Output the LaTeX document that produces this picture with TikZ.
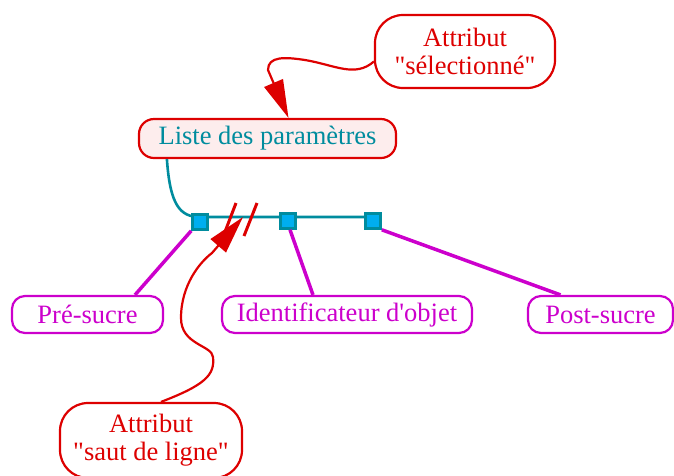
\documentclass[tikz,border=0pt]{standalone}
\usepackage{fontspec}
\setmainfont{Liberation Serif}
\usepackage{tikz}
\usetikzlibrary{arrows.meta}
\definecolor{rouge}{HTML}{DD0000}
\definecolor{sarcelle}{HTML}{008C9E}
\definecolor{mauve}{HTML}{CC00CC}
\definecolor{bleu}{HTML}{00AEEF}
\definecolor{rose}{HTML}{FDEDED}

\begin{document}
\begin{tikzpicture}[x=1pt,y=-1pt,
  txt/.style={font=\fontsize{26.5}{28}\selectfont,align=center,inner sep=0pt},
  attr/.style={txt,draw=rouge,text=rouge,fill=white,line width=2.2pt,rounded corners=28pt},
  role/.style={txt,draw=mauve,text=mauve,line width=2.2pt,rounded corners=13pt,minimum height=37pt},
  param/.style={minimum size=15pt,inner sep=0pt,fill=bleu,draw=sarcelle,line width=2.6pt},
  fleche/.style={draw=rouge,line width=2.2pt,-{Triangle[length=38pt,width=20pt]}},
  lien/.style={draw=mauve,line width=3.5pt}]
\useasboundingbox (0,0) rectangle (674,475);
\node[attr,minimum width=180pt,minimum height=73pt] (sel) at (465,51.5) {Attribut\\\textquotedbl sélectionné\textquotedbl};
\node[txt,draw=rouge,fill=rose,text=sarcelle,line width=2.2pt,rounded corners=15pt,minimum width=257pt,minimum height=39pt] (liste) at (267.5,138.5) {Liste des paramètres};
\coordinate (depart) at ([xshift=29pt]liste.south west);
\node[param] (p1) at (200,222) {}; \node[param] (p2) at (288,221) {}; \node[param] (p3) at (373,221) {};
\draw[sarcelle,line width=2.6pt] (depart) .. controls (170,205) and (180,217) .. ([yshift=5pt]p1.center) -- ([yshift=4pt]p3.center);
\node[param] at (p1) {}; \node[param] at (p2) {}; \node[param] at (p3) {};
\node[role,minimum width=151pt] (pre) at (87.5,314.5) {Pré-sucre};
\node[role,minimum width=250pt] (ident) at (347,314.5) {Identificateur d\textquotesingle objet};
\node[role,minimum width=145pt] (post) at (600.5,314.5) {Post-sucre};
\draw[lien] (p1.south west) -- ([xshift=47.5pt]pre.north);
\draw[lien] ([xshift=2pt]p2.south) -- ([xshift=-34pt]ident.north);
\draw[lien] (p3.south east) -- ([xshift=-40pt]post.north);
\draw[rouge,line width=3pt] (236,203) -- (223,237); \draw[rouge,line width=3pt] (257,203) -- (244,236);
\node[attr,minimum width=182pt,minimum height=75pt] (saut) at (151,440.5) {Attribut\\\textquotedbl saut de ligne\textquotedbl};
\coordinate (coupure) at (243,217);
\draw[fleche] ([yshift=-10pt]sel.west) .. controls (355,78) and (335,65) .. (305,60) .. controls (285,57) and (268,56) .. (268,70) -- ([xshift=21pt]liste.north);
\draw[fleche] ([xshift=10pt]saut.north) .. controls (205,385) and (215,375) .. (213,357) .. controls (212,345) and (181,345) .. (181,318) .. controls (181,285) and (200,262) .. (212,253) -- (coupure);
\end{tikzpicture}
\end{document}
